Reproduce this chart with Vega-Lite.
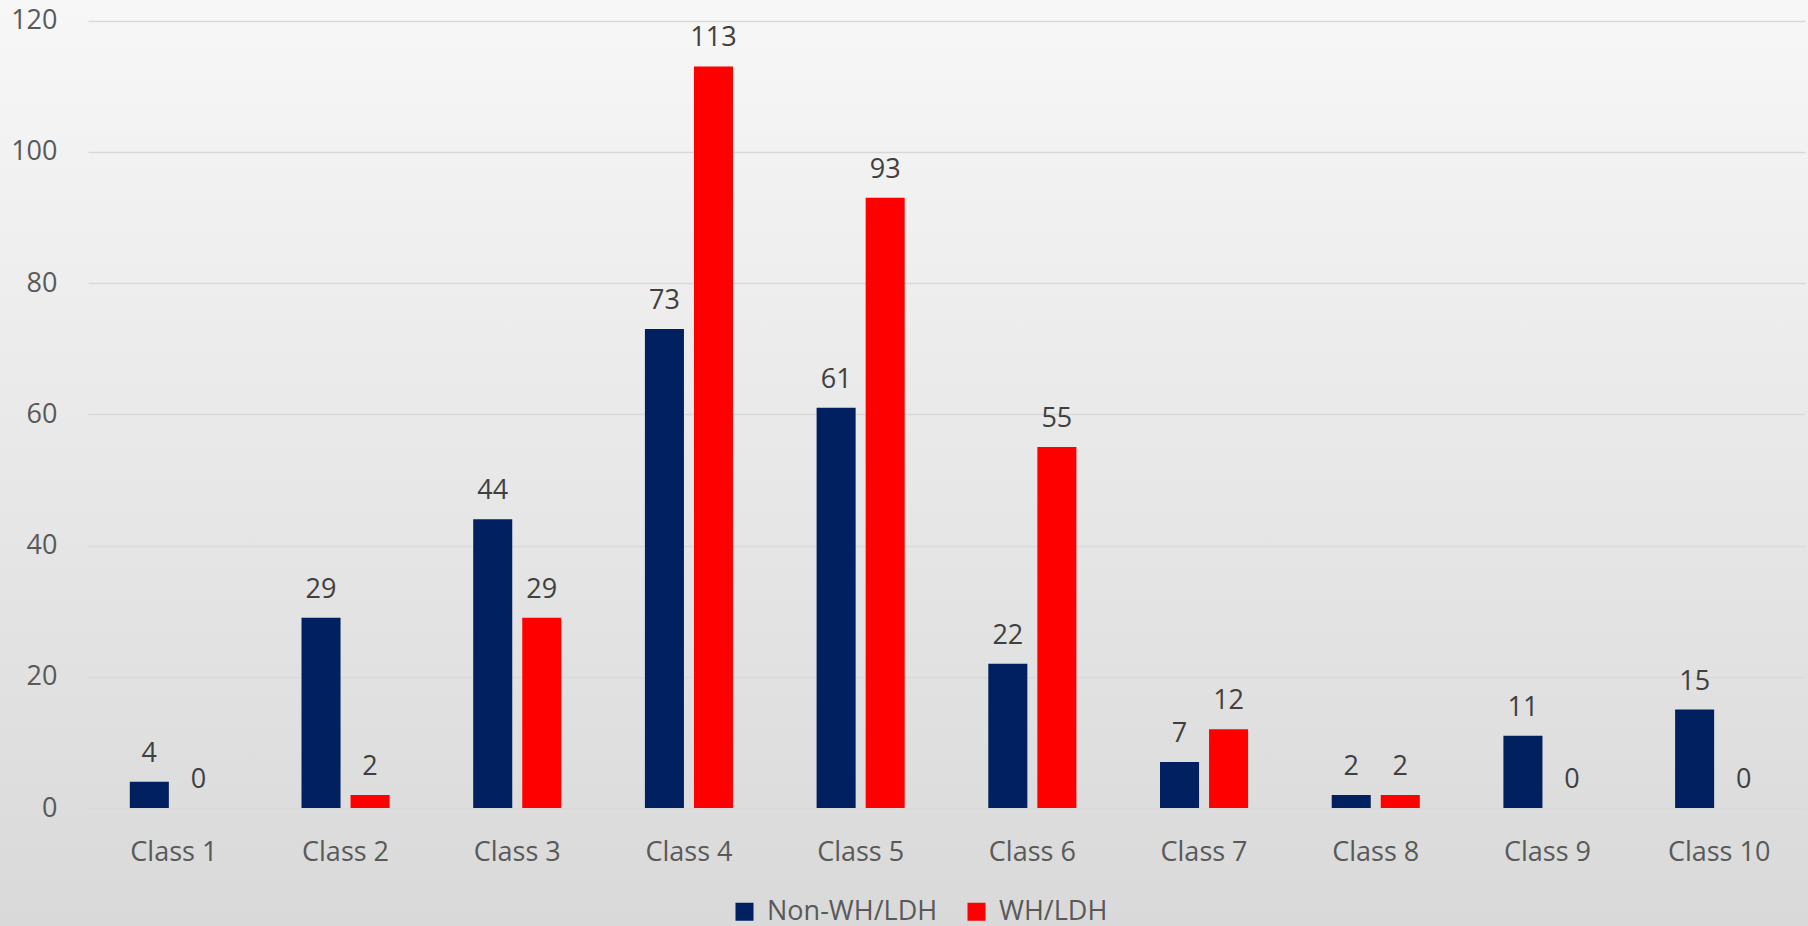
{
  "$schema": "https://vega.github.io/schema/vega-lite/v6.json",
  "width": 1808,
  "height": 926,
  "autosize": {"type": "none"},
  "padding": 0,
  "background": "#d9d9d9",
  "config": {
    "font": "Open Sans",
    "view": {
      "stroke": null,
      "fill": {
        "gradient": "linear",
        "x1": 0, "y1": 0, "x2": 0, "y2": 1,
        "stops": [
          {"offset": 0, "color": "#f7f7f7"},
          {"offset": 1, "color": "#d9d9d9"}
        ]
      }
    }
  },
  "data": {
    "values": [
      {"cls": "Class 1", "series": "Non-WH/LDH", "value": 4},
      {"cls": "Class 1", "series": "WH/LDH", "value": 0},
      {"cls": "Class 2", "series": "Non-WH/LDH", "value": 29},
      {"cls": "Class 2", "series": "WH/LDH", "value": 2},
      {"cls": "Class 3", "series": "Non-WH/LDH", "value": 44},
      {"cls": "Class 3", "series": "WH/LDH", "value": 29},
      {"cls": "Class 4", "series": "Non-WH/LDH", "value": 73},
      {"cls": "Class 4", "series": "WH/LDH", "value": 113},
      {"cls": "Class 5", "series": "Non-WH/LDH", "value": 61},
      {"cls": "Class 5", "series": "WH/LDH", "value": 93},
      {"cls": "Class 6", "series": "Non-WH/LDH", "value": 22},
      {"cls": "Class 6", "series": "WH/LDH", "value": 55},
      {"cls": "Class 7", "series": "Non-WH/LDH", "value": 7},
      {"cls": "Class 7", "series": "WH/LDH", "value": 12},
      {"cls": "Class 8", "series": "Non-WH/LDH", "value": 2},
      {"cls": "Class 8", "series": "WH/LDH", "value": 2},
      {"cls": "Class 9", "series": "Non-WH/LDH", "value": 11},
      {"cls": "Class 9", "series": "WH/LDH", "value": 0},
      {"cls": "Class 10", "series": "Non-WH/LDH", "value": 15},
      {"cls": "Class 10", "series": "WH/LDH", "value": 0}
    ]
  },
  "encoding": {
    "x": {
      "field": "cls",
      "type": "nominal",
      "sort": null,
      "scale": {"range": [88, 1805], "paddingInner": 0.487, "paddingOuter": 0.2435},
      "axis": {
        "title": null,
        "labelAngle": 0,
        "domain": false,
        "ticks": false,
        "tickSize": 0,
        "offset": -118,
        "labelPadding": 31,
        "labelFontSize": 27,
        "labelColor": "#595959",
        "labelFont": "Open Sans"
      }
    },
    "xOffset": {
      "field": "series",
      "type": "nominal",
      "scale": {"paddingInner": 0.204, "paddingOuter": 0}
    },
    "y": {
      "field": "value",
      "type": "quantitative",
      "scale": {"domain": [0, 120], "range": [808, 20.5], "nice": false, "zero": true},
      "axis": {
        "title": null,
        "values": [0, 20, 40, 60, 80, 100, 120],
        "domain": false,
        "ticks": false,
        "tickSize": 0,
        "offset": -88,
        "labelPadding": 31,
        "labelFontSize": 27,
        "labelColor": "#595959",
        "labelFont": "Open Sans",
        "gridColor": "#d9d9d9",
        "gridWidth": 1.5
      }
    }
  },
  "layer": [
    {
      "mark": {"type": "bar"},
      "encoding": {
        "color": {
          "field": "series",
          "type": "nominal",
          "scale": {"domain": ["Non-WH/LDH", "WH/LDH"], "range": ["#002060", "#ff0000"]},
          "legend": {
            "title": null,
            "orient": "none",
            "direction": "horizontal",
            "legendX": 731,
            "legendY": 898,
            "symbolType": "square",
            "symbolSize": 324,
            "symbolStrokeWidth": 0,
            "symbolOpacity": 1,
            "labelFontSize": 27,
            "labelColor": "#595959",
            "labelFont": "Open Sans",
            "labelOffset": 9,
            "labelLimit": 0,
            "columnPadding": 25,
            "padding": 0
          }
        }
      }
    },
    {
      "mark": {"type": "text", "baseline": "alphabetic", "dy": -20, "fontSize": 27, "color": "#404040", "font": "Open Sans"},
      "encoding": {
        "text": {"field": "value", "type": "quantitative"}
      }
    }
  ]
}
